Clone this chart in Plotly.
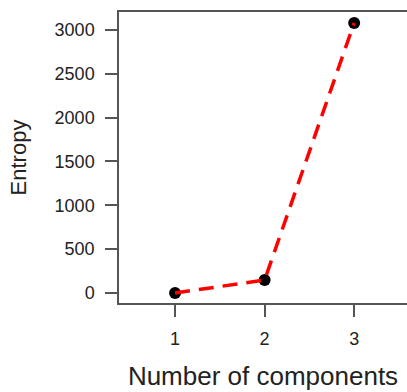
import plotly.graph_objects as go

components = [1, 2, 3]
entropy = [0, 148, 3080]
y_ticks = [0, 500, 1000, 1500, 2000, 2500, 3000]
x_ticks = [1, 2, 3]

FONT = "Liberation Sans, Arial, Helvetica, sans-serif"
AXIS = "#555555"

fig = go.Figure()
fig.add_trace(go.Scatter(
    x=components, y=entropy, mode="markers",
    marker=dict(color="black", size=12),
    showlegend=False, hoverinfo="skip"))
fig.add_trace(go.Scatter(
    x=components, y=entropy, mode="lines",
    line=dict(color="#ff0000", width=3.5, dash="15px,9px"),
    showlegend=False))

fig.update_layout(
    width=407, height=392,
    margin=dict(l=119, r=0, t=12, b=89),
    paper_bgcolor="white", plot_bgcolor="white",
    font=dict(family=FONT, color="#222222"),
    xaxis=dict(
        range=[0.374, 3.59], tickvals=x_ticks, ticktext=[str(v) for v in x_ticks],
        showgrid=False, zeroline=False,
        showline=True, linecolor=AXIS, linewidth=1.5, mirror=True,
        ticks="outside", ticklen=12, tickcolor=AXIS, tickwidth=1.5,
        tickfont=dict(size=18, color="#222222"), ticklabelstandoff=7,
        title=dict(text="Number of components", font=dict(size=26, color="#222222"), standoff=18),
    ),
    yaxis=dict(
        range=[-114, 3205], tickvals=y_ticks,
        showgrid=False, zeroline=False,
        showline=True, linecolor=AXIS, linewidth=1.5, mirror=False,
        ticks="outside", ticklen=12, tickcolor=AXIS, tickwidth=1.5,
        tickfont=dict(size=18, color="#222222"), ticklabelstandoff=7,
        title=dict(text="Entropy", font=dict(size=22, color="#222222"), standoff=22),
    ),
)

fig.write_html("out.html", config={"displayModeBar": False},
               post_script="document.body.style.margin='0';document.body.style.overflow='hidden';")
